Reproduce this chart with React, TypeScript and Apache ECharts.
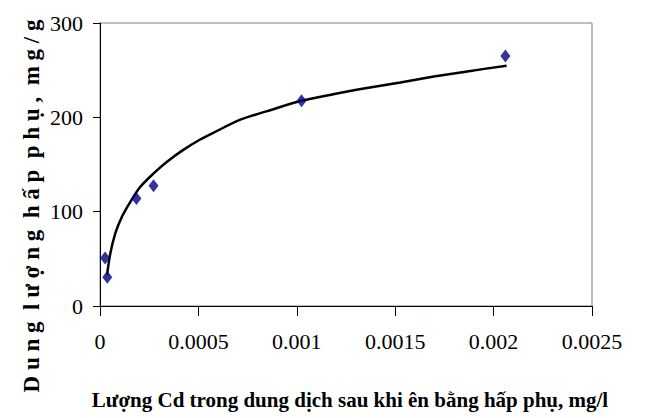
import React, { useEffect, useRef } from "react";
import * as echarts from "echarts";

const xTickLabels = ["0", "0.0005", "0.001", "0.0015", "0.002", "0.0025"];
const yTickLabels = ["0", "100", "200", "300"];

// measured points (x: mg/l, y: mg/g)
const pointX = [0.000026, 0.000037, 0.000185, 0.000272, 0.001024, 0.00206];
const pointY = [51, 30.5, 114, 127.5, 217.5, 265];

// trend curve
const curveX = [0.0000357, 0.0000526, 0.0000781, 0.000112, 0.000155, 0.000206, 0.000274, 0.000342, 0.000427, 0.000509, 0.000573, 0.000713, 0.000845, 0.001024, 0.001185, 0.001356, 0.001526, 0.001696, 0.001866, 0.002066];
const curveY = [32.9, 55.9, 77.2, 94.8, 110.7, 126.6, 140.9, 153.2, 166, 176.5, 183.3, 197.5, 206.3, 217.5, 224.5, 231, 237, 243.2, 248.7, 254.8];

const xTitle = "Lượng Cd trong dung dịch sau khi ên bằng hấp phụ, mg/l";
const yTitle = "D u n g  l ư ợ n g  h ấ p  p h ụ ,  m g / g";

const FONT = "'Liberation Serif', 'Times New Roman', serif";

export default function App() {
  const ref = useRef<HTMLDivElement>(null);
  useEffect(() => {
    if (!ref.current) return;
    const chart = echarts.init(ref.current, undefined, { renderer: "svg" });
    chart.setOption({
      animation: false,
      backgroundColor: "#ffffff",
      grid: {
        left: 100,
        right: 62,
        top: 23,
        bottom: 112,
        show: true,
        borderColor: "#808080",
        borderWidth: 1,
      },
      xAxis: {
        type: "value",
        min: 0,
        max: 0.0025,
        interval: 0.0005,
        axisLine: { show: true, lineStyle: { color: "#000", width: 1 } },
        axisTick: { show: true, length: 10, inside: false, lineStyle: { color: "#000" } },
        splitLine: { show: false },
        axisLabel: {
          margin: 24,
          fontFamily: FONT,
          fontSize: 22,
          color: "#000",
          formatter: (v: number) => {
            const i = Math.round(v / 0.0005);
            return xTickLabels[i] ?? "";
          },
        },
      },
      yAxis: {
        type: "value",
        min: 0,
        max: 300,
        interval: 100,
        axisLine: { show: true, lineStyle: { color: "#000", width: 1 } },
        axisTick: { show: true, length: 7, inside: false, lineStyle: { color: "#000" } },
        splitLine: { show: false },
        axisLabel: {
          margin: 17,
          fontFamily: FONT,
          fontSize: 22,
          color: "#000",
          formatter: (v: number) => {
            const i = Math.round(v / 100);
            return yTickLabels[i] ?? "";
          },
        },
      },
      graphic: [
        {
          type: "text",
          x: 350,
          y: 400,
          style: {
            text: xTitle,
            fontFamily: FONT,
            fontWeight: "bold",
            fontSize: 21,
            fill: "#000",
            align: "center",
            verticalAlign: "middle",
          },
        },
        {
          type: "text",
          x: 31,
          y: 206,
          rotation: Math.PI / 2,
          style: {
            text: yTitle,
            fontFamily: FONT,
            fontWeight: "bold",
            fontSize: 23,
            fill: "#000",
            align: "center",
            verticalAlign: "middle",
          },
        },
      ],
      series: [
        {
          type: "line",
          data: curveX.map((x, i) => [x, curveY[i]]),
          smooth: 0.3,
          showSymbol: false,
          symbol: "none",
          lineStyle: { color: "#000", width: 2.5 },
          z: 2,
        },
        {
          type: "scatter",
          data: pointX.map((x, i) => [x, pointY[i]]),
          symbol: "diamond",
          symbolSize: [10, 13],
          itemStyle: { color: "#000080" },
          z: 3,
        },
      ],
    });
    return () => chart.dispose();
  }, []);
  return <div ref={ref} style={{ width: 654, height: 418, position: "absolute", left: 0, top: 0 }} />;
}
